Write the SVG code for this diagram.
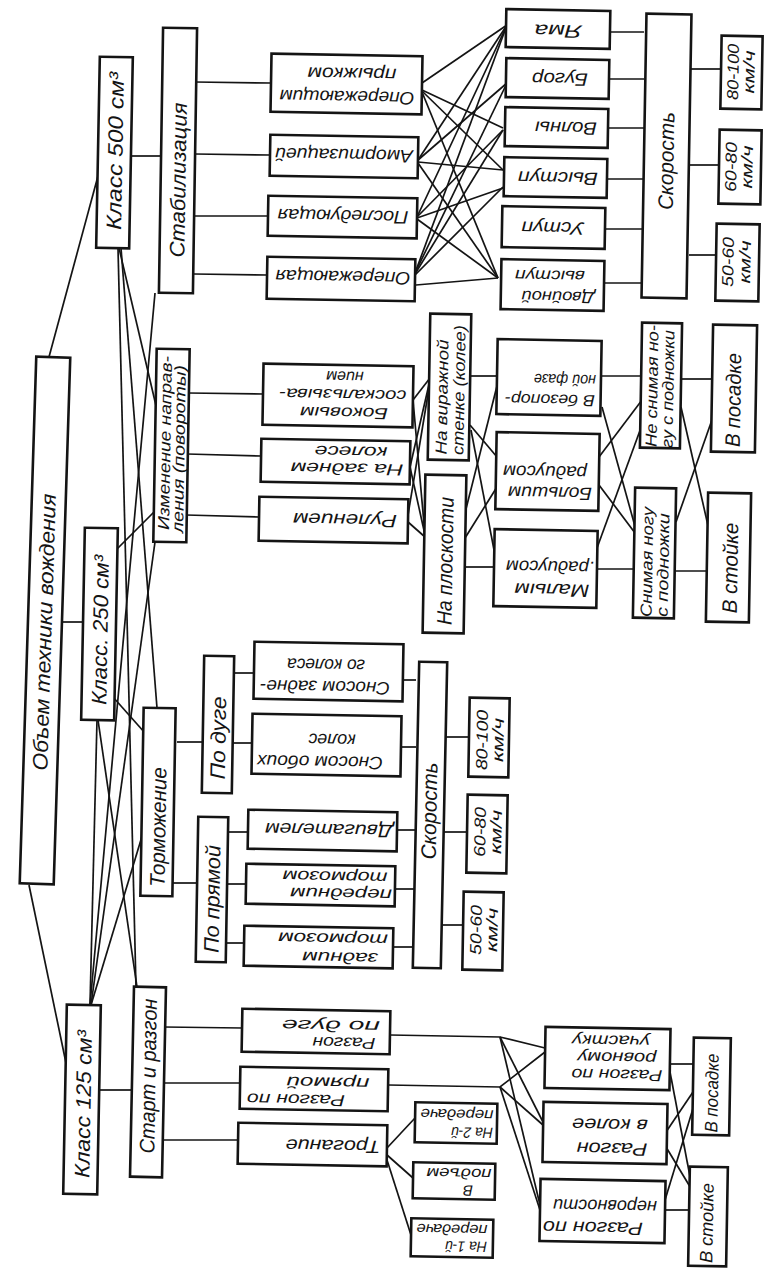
<svg xmlns="http://www.w3.org/2000/svg" width="764" height="1268" viewBox="0 0 764 1268">
<style>
.b{fill:#fff;stroke:#141414;stroke-width:2.6}
.t{font-family:"Liberation Sans",Arial,sans-serif;font-style:italic;font-size:18px;fill:#141414;text-anchor:middle;dominant-baseline:central}
.L{font-size:21px}
.n{font-size:16px}
.s{font-size:15px}
.c line,.c polyline{stroke:#141414;stroke-width:1.7;fill:none}
</style>
<rect width="764" height="1268" fill="#fff"/>
<g class="c" id="connectors">
<line x1="49" y1="357" x2="98" y2="176"/>
<line x1="62" y1="622" x2="83" y2="622"/>
<line x1="29" y1="885" x2="66" y2="1063"/>
<line x1="131" y1="156" x2="162" y2="156"/>
<line x1="117" y1="549" x2="155" y2="511"/>
<line x1="113" y1="697" x2="145" y2="733"/>
<line x1="99" y1="1090" x2="131" y2="1090"/>
<line x1="119" y1="248" x2="157" y2="410"/>
<line x1="121" y1="248" x2="157" y2="708"/>
<line x1="118" y1="248" x2="136" y2="987"/>
<line x1="155" y1="293" x2="90" y2="1005"/>
<line x1="155" y1="542" x2="91" y2="1005"/>
<line x1="143" y1="833" x2="91" y2="1005"/>
<line x1="98" y1="720" x2="137" y2="987"/>
<line x1="97" y1="720" x2="90" y2="1005"/>
<line x1="195" y1="82" x2="271" y2="83"/>
<line x1="195" y1="154" x2="270" y2="155"/>
<line x1="194" y1="216" x2="268" y2="216"/>
<line x1="194" y1="274" x2="267" y2="275"/>
<line x1="422" y1="83" x2="507" y2="25"/>
<line x1="422" y1="90" x2="503" y2="128"/>
<line x1="422" y1="91" x2="503" y2="170"/>
<line x1="422" y1="92" x2="498" y2="278"/>
<line x1="418" y1="160" x2="507" y2="25"/>
<line x1="418" y1="160" x2="507" y2="83"/>
<line x1="418" y1="162" x2="503" y2="170"/>
<line x1="418" y1="163" x2="498" y2="278"/>
<line x1="417" y1="217" x2="507" y2="25"/>
<line x1="417" y1="217" x2="503" y2="130"/>
<line x1="417" y1="218" x2="503" y2="188"/>
<line x1="417" y1="219" x2="498" y2="278"/>
<line x1="415" y1="273" x2="507" y2="25"/>
<line x1="415" y1="273" x2="507" y2="83"/>
<line x1="415" y1="274" x2="503" y2="130"/>
<line x1="415" y1="275" x2="503" y2="187"/>
<line x1="416" y1="285" x2="498" y2="278"/>
<line x1="610" y1="32" x2="644" y2="32"/>
<line x1="609" y1="79" x2="644" y2="79"/>
<line x1="608" y1="128" x2="644" y2="128"/>
<line x1="607" y1="179" x2="644" y2="179"/>
<line x1="605" y1="229" x2="644" y2="229"/>
<line x1="604" y1="283" x2="644" y2="283"/>
<line x1="689" y1="69" x2="721" y2="69"/>
<line x1="689" y1="165" x2="719" y2="165"/>
<line x1="689" y1="255" x2="716" y2="255"/>
<line x1="188" y1="393" x2="263" y2="394"/>
<line x1="187" y1="454" x2="261" y2="456"/>
<line x1="186" y1="515" x2="259" y2="517"/>
<line x1="413" y1="400" x2="430" y2="378"/>
<line x1="413" y1="400" x2="425" y2="535"/>
<line x1="410" y1="467" x2="430" y2="380"/>
<line x1="410" y1="467" x2="425" y2="535"/>
<line x1="408" y1="515" x2="430" y2="382"/>
<line x1="408" y1="522" x2="425" y2="537"/>
<line x1="470" y1="376" x2="498" y2="376"/>
<line x1="470" y1="425" x2="497" y2="457"/>
<line x1="471" y1="430" x2="495" y2="555"/>
<line x1="465" y1="513" x2="498" y2="382"/>
<line x1="465" y1="538" x2="497" y2="487"/>
<line x1="465" y1="567" x2="495" y2="567"/>
<line x1="602" y1="376" x2="642" y2="376"/>
<line x1="602" y1="407" x2="636" y2="530"/>
<line x1="599" y1="457" x2="642" y2="400"/>
<line x1="599" y1="485" x2="635" y2="533"/>
<line x1="597" y1="548" x2="642" y2="425"/>
<line x1="597" y1="569" x2="635" y2="569"/>
<line x1="681" y1="379" x2="713" y2="379"/>
<line x1="681" y1="407" x2="709" y2="530"/>
<line x1="676" y1="522" x2="713" y2="417"/>
<line x1="676" y1="571" x2="709" y2="571"/>
<line x1="177" y1="742" x2="203" y2="742"/>
<line x1="171" y1="883" x2="197" y2="883"/>
<line x1="233" y1="673" x2="254" y2="673"/>
<line x1="233" y1="743" x2="252" y2="743"/>
<line x1="228" y1="832" x2="248" y2="832"/>
<line x1="227" y1="884" x2="246" y2="884"/>
<line x1="226" y1="943" x2="244" y2="943"/>
<line x1="403" y1="680" x2="416" y2="680"/>
<line x1="401" y1="747" x2="416" y2="747"/>
<line x1="397" y1="830" x2="416" y2="830"/>
<line x1="395" y1="889" x2="416" y2="889"/>
<line x1="393" y1="947" x2="416" y2="947"/>
<line x1="444" y1="737" x2="469" y2="737"/>
<line x1="444" y1="832" x2="467" y2="832"/>
<line x1="443" y1="925" x2="463" y2="925"/>
<line x1="164" y1="1027" x2="242" y2="1028"/>
<line x1="163" y1="1083" x2="240" y2="1083"/>
<line x1="162" y1="1140" x2="238" y2="1140"/>
<line x1="387" y1="1148" x2="415" y2="1118"/>
<line x1="387" y1="1155" x2="413" y2="1178"/>
<line x1="387" y1="1160" x2="411" y2="1235"/>
<polyline points="390,1035 500,1037 545,1048"/>
<line x1="500" y1="1037" x2="543" y2="1122"/>
<line x1="500" y1="1037" x2="540" y2="1205"/>
<polyline points="388,1085 500,1087 545,1052"/>
<line x1="500" y1="1087" x2="543" y2="1125"/>
<line x1="500" y1="1087" x2="540" y2="1210"/>
<line x1="670" y1="1064" x2="693" y2="1064"/>
<line x1="670" y1="1072" x2="692" y2="1187"/>
<line x1="666" y1="1132" x2="693" y2="1092"/>
<line x1="666" y1="1147" x2="692" y2="1190"/>
<line x1="665" y1="1200" x2="695" y2="1102"/>
<line x1="665" y1="1210" x2="690" y2="1210"/>
</g>

<g id="n_obem"><rect class="b" x="28" y="357" width="34" height="527" transform="rotate(1.8 45 620)"/><text class="t L" transform="translate(44 632) rotate(-88.2)" textLength="277" lengthAdjust="spacingAndGlyphs">Объем   техники   вождения</text></g>

<g id="n_c500"><rect class="b" x="98" y="57" width="33" height="191" transform="rotate(1.1 114 152)"/><text class="t L" transform="translate(115 151) rotate(-89)" textLength="158" lengthAdjust="spacingAndGlyphs">Класс  500 см³</text></g>
<g id="n_c250"><rect class="b" x="83" y="528" width="33" height="192" transform="rotate(1.1 99 624)"/><text class="t L" transform="translate(100 630) rotate(-89)" textLength="150" lengthAdjust="spacingAndGlyphs">Класс. 250 см³</text></g>
<g id="n_c125"><rect class="b" x="65" y="1005" width="34" height="189" transform="rotate(1.1 82 1100)"/><text class="t L" transform="translate(83 1104) rotate(-89)" textLength="148" lengthAdjust="spacingAndGlyphs">Класс  125 см³</text></g>

<g id="n_stab"><rect class="b" x="161" y="28" width="34" height="265" transform="rotate(0.9 178 160)"/><text class="t L" transform="translate(178 180) rotate(-89)" textLength="155" lengthAdjust="spacingAndGlyphs">Стабилизация</text></g>
<g id="n_izm"><rect class="b" x="155" y="349" width="33" height="193" transform="rotate(1 171 445)"/><text class="t n" transform="translate(165 443) rotate(-89)" textLength="174" lengthAdjust="spacingAndGlyphs">Изменение направ-</text><text class="t n" transform="translate(179 449) rotate(-89)" textLength="168" lengthAdjust="spacingAndGlyphs">ления (повороты)</text></g>
<g id="n_torm"><rect class="b" x="142" y="708" width="32" height="188" transform="rotate(1 158 802)"/><text class="t L" transform="translate(158 827) rotate(-89)" textLength="120" lengthAdjust="spacingAndGlyphs">Торможение</text></g>
<g id="n_start"><rect class="b" x="132" y="987" width="32" height="190" transform="rotate(1.2 148 1082)"/><text class="t L" transform="translate(148 1076) rotate(-89)" textLength="155" lengthAdjust="spacingAndGlyphs">Старт и разгон</text></g>

<g id="n_s1"><rect class="b" x="271" y="55" width="151" height="58" transform="rotate(1 346 84)"/><text class="t" transform="translate(347 97) rotate(181)" textLength="135" lengthAdjust="spacingAndGlyphs">Опережающим</text><text class="t" transform="translate(352 74) rotate(181)" textLength="89" lengthAdjust="spacingAndGlyphs">прыжком</text></g>
<g id="n_s2"><rect class="b" x="270" y="136" width="148" height="41" transform="rotate(1 344 156)"/><text class="t" transform="translate(344 155) rotate(181)" textLength="138" lengthAdjust="spacingAndGlyphs">Амортизацией</text></g>
<g id="n_s3"><rect class="b" x="268" y="197" width="149" height="40" transform="rotate(1 342 217)"/><text class="t" transform="translate(343 216) rotate(181)" textLength="131" lengthAdjust="spacingAndGlyphs">Последующая</text></g>
<g id="n_s4"><rect class="b" x="267" y="258" width="148" height="42" transform="rotate(1 341 279)"/><text class="t" transform="translate(343 277) rotate(181)" textLength="135" lengthAdjust="spacingAndGlyphs">Опережающая</text></g>

<g id="n_o1"><rect class="b" x="506" y="10" width="104" height="38" transform="rotate(1 558 29)"/><text class="t" transform="translate(558 31) rotate(181)" textLength="47" lengthAdjust="spacingAndGlyphs">Яма</text></g>
<g id="n_o2"><rect class="b" x="506" y="59" width="103" height="39" transform="rotate(1 557 78)"/><text class="t" transform="translate(560 79) rotate(181)" textLength="56" lengthAdjust="spacingAndGlyphs">Бугор</text></g>
<g id="n_o3"><rect class="b" x="505" y="108" width="103" height="39" transform="rotate(1 556 127)"/><text class="t" transform="translate(566 128) rotate(181)" textLength="62" lengthAdjust="spacingAndGlyphs">Волны</text></g>
<g id="n_o4"><rect class="b" x="504" y="158" width="103" height="39" transform="rotate(1 555 177)"/><text class="t" transform="translate(558 178) rotate(181)" textLength="80" lengthAdjust="spacingAndGlyphs">Выступ</text></g>
<g id="n_o5"><rect class="b" x="502" y="207" width="103" height="41" transform="rotate(1 553 227)"/><text class="t" transform="translate(553 228) rotate(181)" textLength="63" lengthAdjust="spacingAndGlyphs">Уступ</text></g>
<g id="n_o6"><rect class="b" x="501" y="260" width="103" height="50" transform="rotate(1 552 285)"/><text class="t n" transform="translate(558 297) rotate(181)" textLength="73" lengthAdjust="spacingAndGlyphs">Двойной</text><text class="t n" transform="translate(550 276) rotate(181)" textLength="70" lengthAdjust="spacingAndGlyphs">выступ</text></g>
<g id="n_spdR"><rect class="b" x="644" y="14" width="45" height="284" transform="rotate(1 666 156)"/><text class="t L" transform="translate(666 161) rotate(-89)" textLength="98" lengthAdjust="spacingAndGlyphs">Скорость</text></g>
<g id="n_r1"><rect class="b" x="721" y="36" width="41" height="73" transform="rotate(1 741 72)"/><text class="t n" transform="translate(733 72) rotate(-89)" textLength="56" lengthAdjust="spacingAndGlyphs">80-100</text><text class="t n" transform="translate(749 72) rotate(-89)" textLength="43" lengthAdjust="spacingAndGlyphs">км/ч</text></g>
<g id="n_r2"><rect class="b" x="719" y="130" width="42" height="74" transform="rotate(1 740 167)"/><text class="t n" transform="translate(731 167) rotate(-89)" textLength="50" lengthAdjust="spacingAndGlyphs">60-80</text><text class="t n" transform="translate(747 167) rotate(-89)" textLength="43" lengthAdjust="spacingAndGlyphs">км/ч</text></g>
<g id="n_r3"><rect class="b" x="716" y="224" width="43" height="77" transform="rotate(1 737 262)"/><text class="t n" transform="translate(728 262) rotate(-89)" textLength="50" lengthAdjust="spacingAndGlyphs">50-60</text><text class="t n" transform="translate(745 262) rotate(-89)" textLength="43" lengthAdjust="spacingAndGlyphs">км/ч</text></g>

<g id="n_m1"><rect class="b" x="263" y="365" width="150" height="61" transform="rotate(1 338 395)"/><text class="t n" transform="translate(344 413) rotate(181)" textLength="88" lengthAdjust="spacingAndGlyphs">Боковым</text><text class="t n" transform="translate(343 395) rotate(181)" textLength="127" lengthAdjust="spacingAndGlyphs">соскальзыва-</text><text class="t n" transform="translate(345 377) rotate(181)">нием</text></g>
<g id="n_m2"><rect class="b" x="261" y="440" width="149" height="43" transform="rotate(1 335 461)"/><text class="t n" transform="translate(347 469) rotate(181)" textLength="113" lengthAdjust="spacingAndGlyphs">На заднем</text><text class="t n" transform="translate(351 452) rotate(181)" textLength="73" lengthAdjust="spacingAndGlyphs">колесе</text></g>
<g id="n_m3"><rect class="b" x="259" y="498" width="149" height="44" transform="rotate(1 333 520)"/><text class="t" transform="translate(345 520) rotate(181)" textLength="104" lengthAdjust="spacingAndGlyphs">Рулением</text></g>
<g id="n_f1"><rect class="b" x="429" y="314" width="41" height="146" transform="rotate(1 449 387)"/><text class="t n" transform="translate(442 397) rotate(-89)" textLength="115" lengthAdjust="spacingAndGlyphs">На виражной</text><text class="t n" transform="translate(459 390) rotate(-89)" textLength="130" lengthAdjust="spacingAndGlyphs">стенке (колее)</text></g>
<g id="n_f2"><rect class="b" x="424" y="475" width="41" height="158" transform="rotate(1 444 554)"/><text class="t L" transform="translate(445 561) rotate(-89)" textLength="128" lengthAdjust="spacingAndGlyphs">На плоскости</text></g>
<g id="n_q1"><rect class="b" x="497" y="340" width="104" height="75" transform="rotate(1 549 377)"/><text class="t n" transform="translate(550 400) rotate(181)" textLength="90" lengthAdjust="spacingAndGlyphs">В безопор-</text><text class="t n" transform="translate(565 380) rotate(181)" textLength="62" lengthAdjust="spacingAndGlyphs">ной фазе</text></g>
<g id="n_q2"><rect class="b" x="496" y="433" width="103" height="77" transform="rotate(1 547 471)"/><text class="t" transform="translate(550 493) rotate(181)" textLength="84" lengthAdjust="spacingAndGlyphs">Большим</text><text class="t" transform="translate(545 472) rotate(181)" textLength="84" lengthAdjust="spacingAndGlyphs">радиусом</text></g>
<g id="n_q3"><rect class="b" x="494" y="530" width="103" height="77" transform="rotate(1 545 568)"/><text class="t" transform="translate(552 590) rotate(181)" textLength="75" lengthAdjust="spacingAndGlyphs">Малым</text><text class="t" transform="translate(550 567) rotate(181)" textLength="88" lengthAdjust="spacingAndGlyphs">.радиусом</text></g>
<g id="n_ft1"><rect class="b" x="641" y="323" width="40" height="125" transform="rotate(1 661 385)"/><text class="t n" transform="translate(652 386) rotate(-89)" textLength="122" lengthAdjust="spacingAndGlyphs">Не снимая но-</text><text class="t n" transform="translate(668 389) rotate(-89)" textLength="118" lengthAdjust="spacingAndGlyphs">гу с подножки</text></g>
<g id="n_ft2"><rect class="b" x="634" y="488" width="41" height="130" transform="rotate(1 654 553)"/><text class="t n" transform="translate(647 562) rotate(-89)" textLength="110" lengthAdjust="spacingAndGlyphs">Снимая ногу</text><text class="t n" transform="translate(663 565) rotate(-89)" textLength="104" lengthAdjust="spacingAndGlyphs">с подножки</text></g>
<g id="n_p1"><rect class="b" x="712" y="325" width="44" height="127" transform="rotate(1 734 388)"/><text class="t L" transform="translate(733 400) rotate(-89)" textLength="94" lengthAdjust="spacingAndGlyphs">В посадке</text></g>
<g id="n_p2"><rect class="b" x="707" y="493" width="43" height="129" transform="rotate(1 728 557)"/><text class="t L" transform="translate(730 568) rotate(-89)" textLength="91" lengthAdjust="spacingAndGlyphs">В стойке</text></g>

<g id="n_arc"><rect class="b" x="203" y="656" width="30" height="137" transform="rotate(1 218 724)"/><text class="t L" transform="translate(218 738) rotate(-89)" textLength="83" lengthAdjust="spacingAndGlyphs">По  дуге</text></g>
<g id="n_str"><rect class="b" x="197" y="817" width="30" height="145" transform="rotate(1 212 889)"/><text class="t L" transform="translate(212 899) rotate(-89)" textLength="108" lengthAdjust="spacingAndGlyphs">По прямой</text></g>
<g id="n_b1"><rect class="b" x="254" y="643" width="149" height="57" transform="rotate(1 328 671)"/><text class="t" transform="translate(325 687) rotate(181)" textLength="130" lengthAdjust="spacingAndGlyphs">Сносом задне-</text><text class="t" transform="translate(326 665) rotate(181)" textLength="78" lengthAdjust="spacingAndGlyphs">го  колеса</text></g>
<g id="n_b2"><rect class="b" x="252" y="715" width="149" height="60" transform="rotate(1 326 745)"/><text class="t" transform="translate(320 762) rotate(181)" textLength="126" lengthAdjust="spacingAndGlyphs">Сносом обоих</text><text class="t" transform="translate(332 740) rotate(181)">колес</text></g>
<g id="n_b3"><rect class="b" x="248" y="811" width="149" height="39" transform="rotate(1 322 830)"/><text class="t" transform="translate(329 830) rotate(181)" textLength="128" lengthAdjust="spacingAndGlyphs">Двигателем</text></g>
<g id="n_b4"><rect class="b" x="246" y="865" width="149" height="40" transform="rotate(1 320 885)"/><text class="t n" transform="translate(341 894) rotate(181)" textLength="102" lengthAdjust="spacingAndGlyphs">передним</text><text class="t n" transform="translate(335 877) rotate(181)" textLength="105" lengthAdjust="spacingAndGlyphs">тормозом</text></g>
<g id="n_b5"><rect class="b" x="244" y="927" width="149" height="40" transform="rotate(1 318 947)"/><text class="t n" transform="translate(340 958) rotate(181)" textLength="76" lengthAdjust="spacingAndGlyphs">задним</text><text class="t n" transform="translate(333 939) rotate(181)" textLength="110" lengthAdjust="spacingAndGlyphs">тормозом</text></g>
<g id="n_spdM"><rect class="b" x="416" y="662" width="28" height="306" transform="rotate(1.2 430 815)"/><text class="t L" transform="translate(429 811) rotate(-89)" textLength="97" lengthAdjust="spacingAndGlyphs">Скорость</text></g>
<g id="n_v1"><rect class="b" x="469" y="698" width="40" height="79" transform="rotate(1 489 737)"/><text class="t n" transform="translate(482 740) rotate(-89)" textLength="60" lengthAdjust="spacingAndGlyphs">80-100</text><text class="t n" transform="translate(498 740) rotate(-89)" textLength="44" lengthAdjust="spacingAndGlyphs">км/ч</text></g>
<g id="n_v2"><rect class="b" x="467" y="795" width="40" height="78" transform="rotate(1 487 834)"/><text class="t n" transform="translate(480 832) rotate(-89)" textLength="50" lengthAdjust="spacingAndGlyphs">60-80</text><text class="t n" transform="translate(496 832) rotate(-89)" textLength="44" lengthAdjust="spacingAndGlyphs">км/ч</text></g>
<g id="n_v3"><rect class="b" x="463" y="892" width="40" height="78" transform="rotate(1 483 931)"/><text class="t n" transform="translate(476 930) rotate(-89)" textLength="50" lengthAdjust="spacingAndGlyphs">50-60</text><text class="t n" transform="translate(492 930) rotate(-89)" textLength="44" lengthAdjust="spacingAndGlyphs">км/ч</text></g>

<g id="n_a1"><rect class="b" x="242" y="1010" width="148" height="43" transform="rotate(1 316 1031)"/><text class="t n" transform="translate(344 1043) rotate(181)" textLength="63" lengthAdjust="spacingAndGlyphs">Разгон</text><text class="t n" transform="translate(331 1026) rotate(181)" textLength="98" lengthAdjust="spacingAndGlyphs">по    дуге</text></g>
<g id="n_a2"><rect class="b" x="240" y="1068" width="148" height="42" transform="rotate(1 314 1089)"/><text class="t n" transform="translate(296 1100) rotate(181)" textLength="98" lengthAdjust="spacingAndGlyphs">Разгон по</text><text class="t n" transform="translate(328 1083) rotate(181)" textLength="83" lengthAdjust="spacingAndGlyphs">прямой</text></g>
<g id="n_a3"><rect class="b" x="238" y="1124" width="149" height="41" transform="rotate(1 312 1144)"/><text class="t" transform="translate(333 1146) rotate(181)" textLength="95" lengthAdjust="spacingAndGlyphs">Трогание</text></g>
<g id="n_g2"><rect class="b" x="415" y="1103" width="82" height="40" transform="rotate(1 456 1123)"/><text class="t s" transform="translate(472 1133) rotate(181)" textLength="42" lengthAdjust="spacingAndGlyphs">На 2-й</text><text class="t s" transform="translate(457 1115) rotate(181)" textLength="73" lengthAdjust="spacingAndGlyphs">передаче</text></g>
<g id="n_g3"><rect class="b" x="413" y="1163" width="82" height="36" transform="rotate(1 454 1181)"/><text class="t s" transform="translate(468 1191) rotate(181)">В</text><text class="t s" transform="translate(459 1174) rotate(181)" textLength="65" lengthAdjust="spacingAndGlyphs">подъем</text></g>
<g id="n_g1"><rect class="b" x="411" y="1219" width="82" height="38" transform="rotate(1 452 1238)"/><text class="t s" transform="translate(466 1247) rotate(181)" textLength="42" lengthAdjust="spacingAndGlyphs">На 1-й</text><text class="t s" transform="translate(452 1230) rotate(181)" textLength="71" lengthAdjust="spacingAndGlyphs">передаче</text></g>
<g id="n_u1"><rect class="b" x="545" y="1028" width="125" height="61" transform="rotate(1 607 1058)"/><text class="t n" transform="translate(617 1075) rotate(181)" textLength="91" lengthAdjust="spacingAndGlyphs">Разгон по</text><text class="t n" transform="translate(617 1058) rotate(181)" textLength="79" lengthAdjust="spacingAndGlyphs">ровному</text><text class="t n" transform="translate(611 1041) rotate(181)" textLength="78" lengthAdjust="spacingAndGlyphs">участку</text></g>
<g id="n_u2"><rect class="b" x="543" y="1103" width="124" height="60" transform="rotate(1 605 1133)"/><text class="t" transform="translate(612 1149) rotate(181)" textLength="71" lengthAdjust="spacingAndGlyphs">Разгон</text><text class="t" transform="translate(610 1125) rotate(181)" textLength="76" lengthAdjust="spacingAndGlyphs">в  колее</text></g>
<g id="n_u3"><rect class="b" x="540" y="1180" width="125" height="62" transform="rotate(1 602 1211)"/><text class="t" transform="translate(593 1228) rotate(181)" textLength="100" lengthAdjust="spacingAndGlyphs">Разгон по</text><text class="t" transform="translate(605 1206) rotate(181)" textLength="104" lengthAdjust="spacingAndGlyphs">неровности</text></g>
<g id="n_w1"><rect class="b" x="693" y="1038" width="37" height="97" transform="rotate(1 711 1086)"/><text class="t" transform="translate(712 1093) rotate(-89)" textLength="79" lengthAdjust="spacingAndGlyphs">В посадке</text></g>
<g id="n_w2"><rect class="b" x="689" y="1167" width="38" height="99" transform="rotate(1 708 1216)"/><text class="t" transform="translate(707 1223) rotate(-89)" textLength="80" lengthAdjust="spacingAndGlyphs">В стойке</text></g>
</svg>
